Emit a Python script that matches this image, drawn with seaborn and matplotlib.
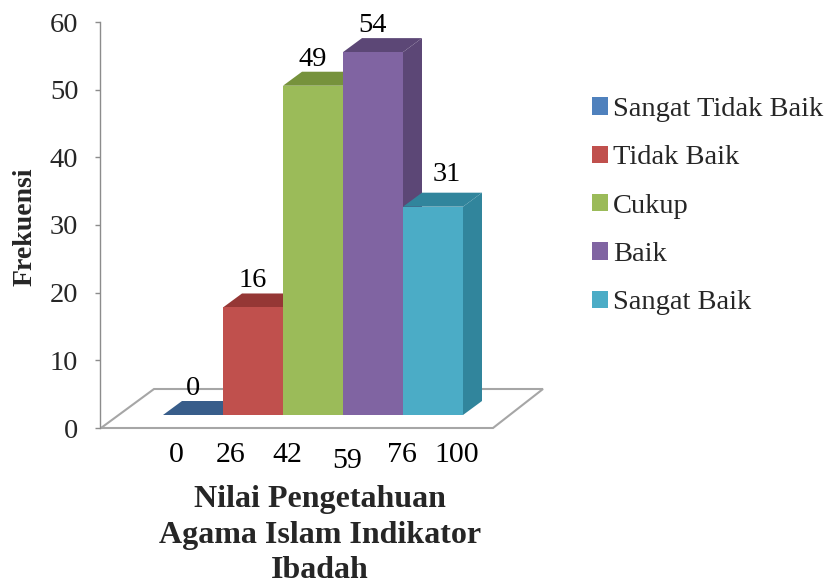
import matplotlib
matplotlib.use("Agg")
import matplotlib.pyplot as plt
import matplotlib.transforms as mtransforms
from matplotlib.patches import Polygon, Patch
import pandas as pd
import seaborn as sns

# --- data -------------------------------------------------------------
categories = ["Sangat Tidak Baik", "Tidak Baik", "Cukup", "Baik", "Sangat Baik"]
frekuensi = [0, 16, 49, 54, 31]
score_labels = ["0", "26", "42", "59", "76", "100"]

# --- style ------------------------------------------------------------
front_colors = ["#4F81BD", "#C0504D", "#9BBB59", "#8064A2", "#4BACC6"]
shade_colors = ["#385D8A", "#953735", "#76923C", "#5C4776", "#31859C"]
axis_gray = "#8C8C8C"

W, H = 835, 586
sns.set_theme(style="white")
plt.rcParams["font.family"] = ["Liberation Serif", "DejaVu Serif"]

fig = plt.figure(figsize=(W / 100, H / 100), dpi=100)
px = mtransforms.Affine2D().scale(1 / W, -1 / H).translate(0, 1) + fig.transFigure


def rect(left, top, right, bottom):
    return [left / W, 1 - bottom / H, (right - left) / W, (bottom - top) / H]


# geometry of the pseudo-3D plot (pixels)
AX_L, AX_R, AX_T, AX_B = 100, 560, 22, 428
BASE_PX = 415          # where the bars stand on the floor
UNIT_PX = 6.72         # pixels per frequency unit along the bars
CAT_PX = 60            # pixels per category
FIRST_EDGE_PX = 163    # left edge of the first bar
DEPTH_X, DEPTH_Y = 19, 14   # depth offset of the 3D faces

# value axis on the front edge of the floor
ax_y = fig.add_axes(rect(AX_L, AX_T, AX_R, AX_B))
ax_y.set_facecolor("none")
ax_y.set_ylim(0, 60)
ax_y.set_yticks(range(0, 61, 10))
ax_y.set_xticks([])
for side in ["top", "right", "bottom"]:
    ax_y.spines[side].set_visible(False)
ax_y.spines["left"].set_color(axis_gray)
ax_y.spines["left"].set_linewidth(1.0)
ax_y.tick_params(axis="y", direction="out", length=3.6, width=1.0,
                 color=axis_gray, labelsize=20.5, pad=12, left=True)

# floor of the 3D plot area
floor = Polygon([(101, AX_B), (493, AX_B), (543, 389), (154, 389)], closed=True,
                fill=False, ec="#A6A6A6", lw=1.5, transform=px, zorder=-1)
fig.add_artist(floor)

# bars
ax = fig.add_axes(rect(AX_L, AX_T, AX_R, AX_B))
ax.set_facecolor("none")
df = pd.DataFrame({"kategori": categories, "frekuensi": frekuensi})
sns.barplot(data=df, x="kategori", y="frekuensi", hue="kategori",
            palette=front_colors, width=1.0, saturation=1, legend=False,
            linewidth=0, ax=ax)

ax.set_xlim(-0.5 - (FIRST_EDGE_PX - AX_L) / CAT_PX,
            -0.5 + (AX_R - FIRST_EDGE_PX) / CAT_PX)
ax.set_ylim(-(AX_B - BASE_PX) / UNIT_PX, (BASE_PX - AX_T) / UNIT_PX)

dx = DEPTH_X / CAT_PX
dy = DEPTH_Y / UNIT_PX

# value labels sit above each bar; the last one is nudged clear of its neighbour
label_nudge_px = [(0, 0), (0, 0), (0, 0), (0, 0), (14, 6)]

bars = sorted(ax.patches, key=lambda p: p.get_x())
for i, (bar, value) in enumerate(zip(bars, frekuensi)):
    x0 = bar.get_x()
    x1 = x0 + bar.get_width()
    h = bar.get_height()
    bar.set_zorder(3 + 2 * i + 1)
    shade = shade_colors[i]
    top_face = Polygon([(x0, h), (x1, h), (x1 + dx, h + dy), (x0 + dx, h + dy)],
                       closed=True, fc=shade, ec="none", zorder=3 + 2 * i)
    side_face = Polygon([(x1, 0), (x1 + dx, dy), (x1 + dx, h + dy), (x1, h)],
                        closed=True, fc=shade, ec="none", zorder=3 + 2 * i)
    ax.add_patch(top_face)
    ax.add_patch(side_face)
    nx, ny = label_nudge_px[i]
    ax.text((x0 + x1) / 2 + nx / CAT_PX, h + dy + ny / UNIT_PX, f"{value}",
            ha="center", va="bottom", fontsize=20.5, color="black", zorder=30)

# category axis labels (score boundaries)
tick_pos = [-0.27, 0.62, 1.57, 2.57, 3.48, 4.40]
ax.set_xticks(tick_pos, score_labels)
ax.set_yticks([])
ax.tick_params(axis="x", length=0, pad=10, labelsize=21.5, colors="black")
ax.get_xticklabels()[3].set_y(-6 / (AX_B - AX_T))
for s in ax.spines.values():
    s.set_visible(False)
ax.set_xlabel("")
ax.set_ylabel("")

# titles
fig.text(25 / W, 1 - 227 / H, "Frekuensi", rotation=90, ha="center", va="center",
         fontsize=20, fontweight="bold")
fig.text(320 / W, 1 - 535 / H, "Nilai Pengetahuan\nAgama Islam Indikator\nIbadah",
         ha="center", va="center", multialignment="center", fontsize=23,
         fontweight="bold", linespacing=1.28)

# legend
handles = [Patch(fc=c, ec="none") for c in front_colors]
fig.legend(handles, categories, loc="upper left",
           bbox_to_anchor=(592 / W, 1 - 97 / H), frameon=False, fontsize=20.5,
           handlelength=0.55, handleheight=0.55, handletextpad=0.2,
           labelspacing=0.82, borderpad=0, borderaxespad=0)

fig.savefig("out.png", dpi=100)
